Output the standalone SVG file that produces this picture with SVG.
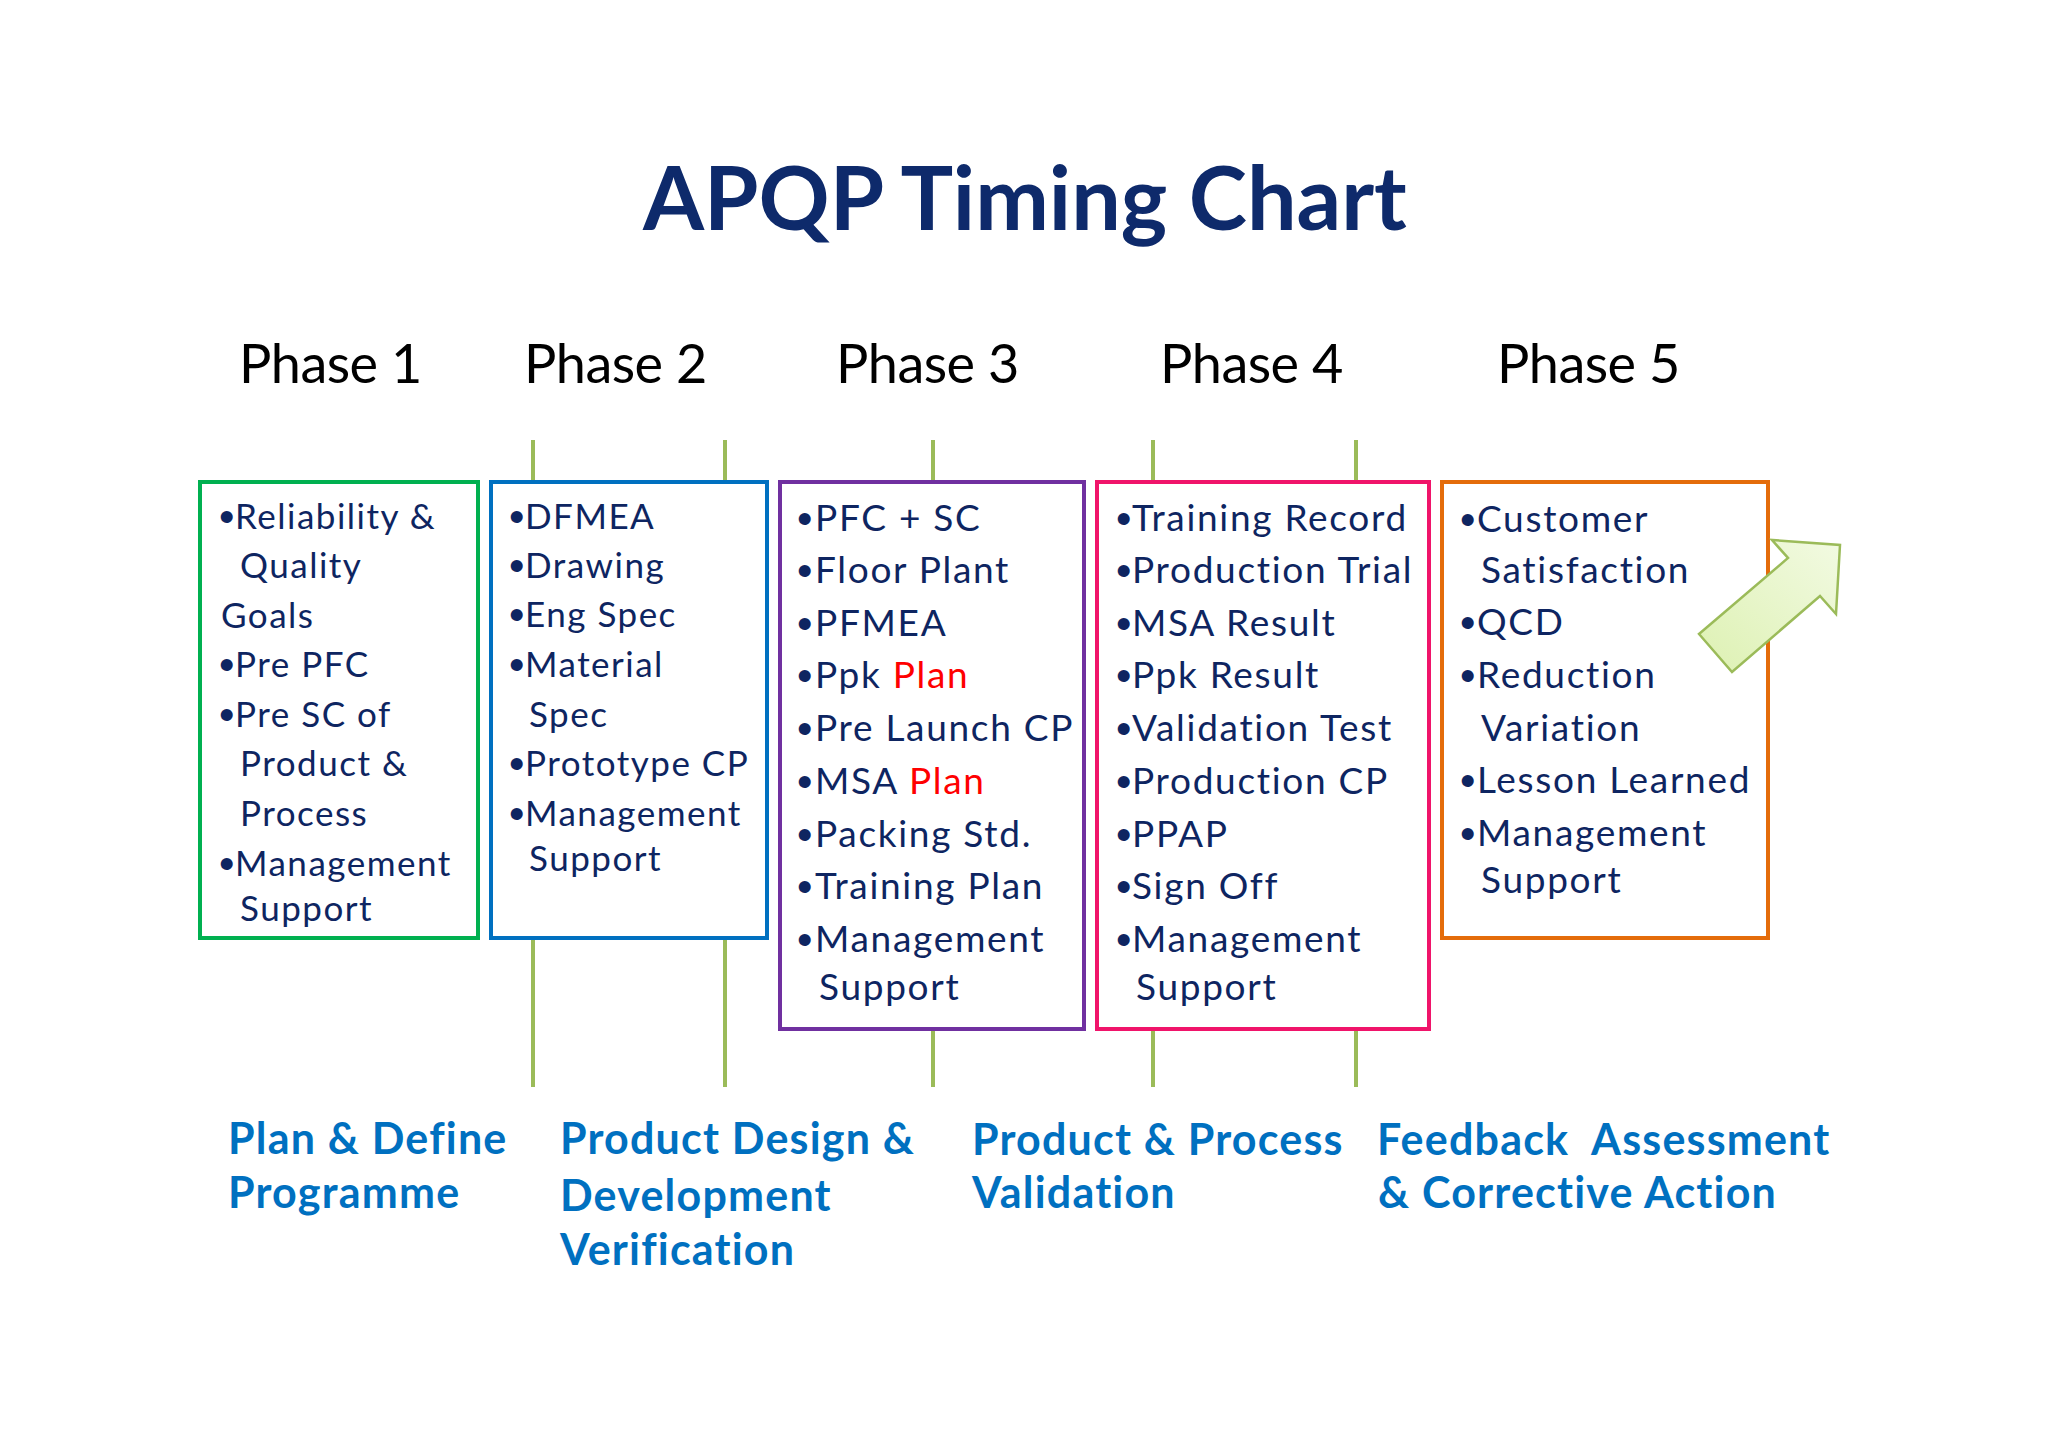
<svg xmlns="http://www.w3.org/2000/svg" width="2048" height="1448" viewBox="0 0 2048 1448">
<style>
  text { font-family: Lato, "Liberation Sans", sans-serif; }
  .title { font-size: 88px; font-weight: bold; fill: #0E2A6B; }
  .phase { font-size: 54px; fill: #000; letter-spacing: -0.5px; }
  .b1 { font-size: 35px; fill: #0E2561; letter-spacing: 1.5px; }
  .b3 { font-size: 37px; fill: #0E2561; letter-spacing: 1.7px; }
  .bul { font-family: "Liberation Sans", sans-serif; font-size: 44px; letter-spacing: 0; }
  .red { fill: #FF0000; }
  .hd { font-size: 43px; font-weight: bold; fill: #0070C0; letter-spacing: 1.2px; white-space: pre; }
  .box { fill: #fff; stroke-width: 4; }
  .tick { stroke: #9BBB59; stroke-width: 4; fill: none; }
</style>
<defs>
  <linearGradient id="arrowFill" x1="0" y1="1" x2="1" y2="0">
    <stop offset="0" stop-color="#DDF1B2"/>
    <stop offset="1" stop-color="#F2FAE2"/>
  </linearGradient>
</defs>
<rect width="2048" height="1448" fill="#fff"/>

<text id="title" class="title" x="643" y="230">APQP Timing Chart</text>

<g id="phases">
  <text class="phase" x="239" y="383">Phase 1</text>
  <text class="phase" x="524" y="383">Phase 2</text>
  <text class="phase" x="836" y="383">Phase 3</text>
  <text class="phase" x="1160" y="383">Phase 4</text>
  <text class="phase" x="1497" y="383">Phase 5</text>
</g>

<g id="connectors">
  <line class="tick" x1="533" y1="440" x2="533" y2="1087"/>
  <line class="tick" x1="725" y1="440" x2="725" y2="1087"/>
  <line class="tick" x1="933" y1="440" x2="933" y2="1087"/>
  <line class="tick" x1="1153" y1="440" x2="1153" y2="1087"/>
  <line class="tick" x1="1356" y1="440" x2="1356" y2="1087"/>
</g>

<g id="phase1">
  <rect class="box" x="200" y="482" width="278" height="456" stroke="#00B050"/>
  <text class="b1" x="219" y="529"><tspan class="bul" dy="3">•</tspan><tspan x="235" dy="-3">Reliability &amp;</tspan></text>
  <text class="b1" x="240" y="578">Quality</text>
  <text class="b1" x="221" y="628">Goals</text>
  <text class="b1" x="219" y="677"><tspan class="bul" dy="3">•</tspan><tspan x="235" dy="-3">Pre PFC</tspan></text>
  <text class="b1" x="219" y="727"><tspan class="bul" dy="3">•</tspan><tspan x="235" dy="-3">Pre SC of</tspan></text>
  <text class="b1" x="240" y="776">Product &amp;</text>
  <text class="b1" x="240" y="826">Process</text>
  <text class="b1" x="219" y="876"><tspan class="bul" dy="3">•</tspan><tspan x="235" dy="-3">Management</tspan></text>
  <text class="b1" x="240" y="921">Support</text>
</g>

<g id="phase2">
  <rect class="box" x="491" y="482" width="276" height="456" stroke="#0070C0"/>
  <text class="b1" x="509" y="529"><tspan class="bul" dy="3">•</tspan><tspan x="525" dy="-3">DFMEA</tspan></text>
  <text class="b1" x="509" y="578"><tspan class="bul" dy="3">•</tspan><tspan x="525" dy="-3">Drawing</tspan></text>
  <text class="b1" x="509" y="627"><tspan class="bul" dy="3">•</tspan><tspan x="525" dy="-3">Eng Spec</tspan></text>
  <text class="b1" x="509" y="677"><tspan class="bul" dy="3">•</tspan><tspan x="525" dy="-3">Material</tspan></text>
  <text class="b1" x="529" y="727">Spec</text>
  <text class="b1" x="509" y="776"><tspan class="bul" dy="3">•</tspan><tspan x="525" dy="-3">Prototype CP</tspan></text>
  <text class="b1" x="509" y="826"><tspan class="bul" dy="3">•</tspan><tspan x="525" dy="-3">Management</tspan></text>
  <text class="b1" x="529" y="871">Support</text>
</g>

<g id="phase3">
  <rect class="box" x="780" y="482" width="304" height="547" stroke="#7030A0"/>
  <text class="b3" x="797" y="531"><tspan class="bul" dy="3">•</tspan><tspan x="815" dy="-3">PFC + SC</tspan></text>
  <text class="b3" x="797" y="583"><tspan class="bul" dy="3">•</tspan><tspan x="815" dy="-3">Floor Plant</tspan></text>
  <text class="b3" x="797" y="636"><tspan class="bul" dy="3">•</tspan><tspan x="815" dy="-3">PFMEA</tspan></text>
  <text class="b3" x="797" y="688"><tspan class="bul" dy="3">•</tspan><tspan x="815" dy="-3">Ppk </tspan><tspan class="red">Plan</tspan></text>
  <text class="b3" x="797" y="741"><tspan class="bul" dy="3">•</tspan><tspan x="815" dy="-3">Pre Launch CP</tspan></text>
  <text class="b3" x="797" y="794"><tspan class="bul" dy="3">•</tspan><tspan x="815" dy="-3">MSA </tspan><tspan class="red">Plan</tspan></text>
  <text class="b3" x="797" y="847"><tspan class="bul" dy="3">•</tspan><tspan x="815" dy="-3">Packing Std.</tspan></text>
  <text class="b3" x="797" y="899"><tspan class="bul" dy="3">•</tspan><tspan x="815" dy="-3">Training Plan</tspan></text>
  <text class="b3" x="797" y="952"><tspan class="bul" dy="3">•</tspan><tspan x="815" dy="-3">Management</tspan></text>
  <text class="b3" x="819" y="1000">Support</text>
</g>

<g id="phase4">
  <rect class="box" x="1097" y="482" width="332" height="547" stroke="#F0146A"/>
  <text class="b3" x="1116" y="531"><tspan class="bul" dy="3">•</tspan><tspan x="1132" dy="-3">Training Record</tspan></text>
  <text class="b3" x="1116" y="583"><tspan class="bul" dy="3">•</tspan><tspan x="1132" dy="-3">Production Trial</tspan></text>
  <text class="b3" x="1116" y="636"><tspan class="bul" dy="3">•</tspan><tspan x="1132" dy="-3">MSA Result</tspan></text>
  <text class="b3" x="1116" y="688"><tspan class="bul" dy="3">•</tspan><tspan x="1132" dy="-3">Ppk Result</tspan></text>
  <text class="b3" x="1116" y="741"><tspan class="bul" dy="3">•</tspan><tspan x="1132" dy="-3">Validation Test</tspan></text>
  <text class="b3" x="1116" y="794"><tspan class="bul" dy="3">•</tspan><tspan x="1132" dy="-3">Production CP</tspan></text>
  <text class="b3" x="1116" y="847"><tspan class="bul" dy="3">•</tspan><tspan x="1132" dy="-3">PPAP</tspan></text>
  <text class="b3" x="1116" y="899"><tspan class="bul" dy="3">•</tspan><tspan x="1132" dy="-3">Sign Off</tspan></text>
  <text class="b3" x="1116" y="952"><tspan class="bul" dy="3">•</tspan><tspan x="1132" dy="-3">Management</tspan></text>
  <text class="b3" x="1136" y="1000">Support</text>
</g>

<g id="phase5">
  <rect class="box" x="1442" y="482" width="326" height="456" stroke="#E46C0A"/>
  <text class="b3" x="1460" y="532"><tspan class="bul" dy="3">•</tspan><tspan x="1477" dy="-3">Customer</tspan></text>
  <text class="b3" x="1481" y="583">Satisfaction</text>
  <text class="b3" x="1460" y="635"><tspan class="bul" dy="3">•</tspan><tspan x="1477" dy="-3">QCD</tspan></text>
  <text class="b3" x="1460" y="688"><tspan class="bul" dy="3">•</tspan><tspan x="1477" dy="-3">Reduction</tspan></text>
  <text class="b3" x="1481" y="741">Variation</text>
  <text class="b3" x="1460" y="793"><tspan class="bul" dy="3">•</tspan><tspan x="1477" dy="-3">Lesson Learned</tspan></text>
  <text class="b3" x="1460" y="846"><tspan class="bul" dy="3">•</tspan><tspan x="1477" dy="-3">Management</tspan></text>
  <text class="b3" x="1481" y="893">Support</text>
</g>

<g id="arrow">
  <polygon points="1699,634 1788,558 1772,540 1840,545 1836,614 1820,596 1732,672" fill="url(#arrowFill)" stroke="#9BBB59" stroke-width="2.5" stroke-linejoin="miter"/>
</g>

<g id="stage-labels">
  <text class="hd" x="228" y="1154">Plan &amp; Define</text>
  <text class="hd" x="228" y="1208">Programme</text>
  <text class="hd" x="560" y="1154">Product Design &amp;</text>
  <text class="hd" x="560" y="1211">Development</text>
  <text class="hd" x="560" y="1265">Verification</text>
  <text class="hd" x="972" y="1155">Product &amp; Process</text>
  <text class="hd" x="972" y="1208">Validation</text>
  <text class="hd" x="1377" y="1155" xml:space="preserve">Feedback  Assessment</text>
  <text class="hd" x="1378" y="1208">&amp; Corrective Action</text>
</g>
</svg>
